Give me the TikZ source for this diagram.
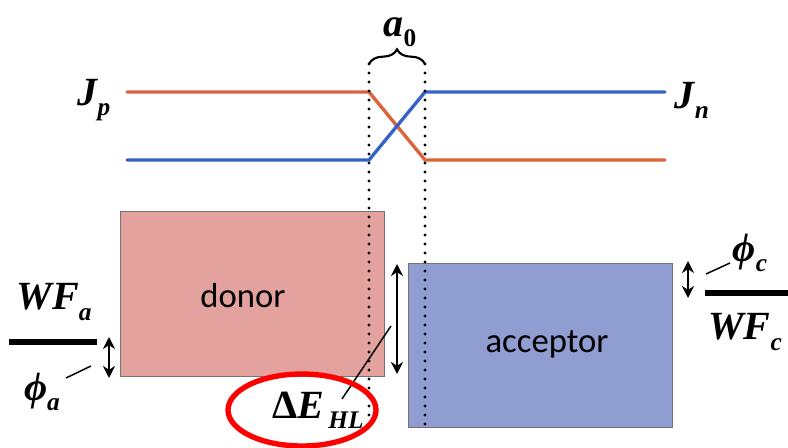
\documentclass[tikz,border=0pt]{standalone}
\usepackage{fontspec}
\setmainfont{Liberation Serif}
\newfontfamily\boxfont{Carlito}
\usetikzlibrary{decorations.pathreplacing,arrows.meta}

\definecolor{jred}{RGB}{220,98,58}
\definecolor{jblue}{RGB}{52,98,200}
\definecolor{donorfill}{RGB}{228,162,158}
\definecolor{acceptfill}{RGB}{143,157,208}

\newcommand{\symsub}[2]{#1\raisebox{-0.55ex}{\fontsize{19}{19}\selectfont #2}}

\begin{document}
\begin{tikzpicture}[
    x=0.75pt, y=-0.75pt,
    lbl/.style={inner sep=0pt, font=\bfseries\itshape\fontsize{30}{32}\selectfont},
    level/.style={line cap=round, line width=2.5pt},
    band/.style={rectangle, draw=black!55, line width=0.8pt, anchor=north west, inner sep=0pt},
    bandtxt/.style={font=\boxfont\fontsize{26}{30}\selectfont},
    gap/.style={line width=2.4pt, dash pattern=on 0pt off 6.75pt, line cap=round},
    dbl/.style={{Stealth[length=9pt,width=9pt]}-{Stealth[length=9pt,width=9pt]}, line width=2pt},
    pointer/.style={line width=1.1pt},
    bar/.style={line width=4pt}
]
\useasboundingbox (0,0) rectangle (788,448);

% energy bands
\node[band, fill=donorfill, minimum width=198pt, minimum height=124pt] (donor) at (120,211) {};
\node[band, fill=acceptfill, minimum width=198pt, minimum height=123pt] (acceptor) at (408,263) {};
\node[bandtxt] (donortxt) at (243,296) {donor};
\node[bandtxt] (acctxt) at (547,344) {acceptor};

% current profiles
\coordinate (pl) at (127,92);
\coordinate (pk) at (369,92);
\coordinate (pm) at (425,160);
\coordinate (pr) at (665,160);
\coordinate (nl) at (127,160);
\coordinate (nk) at (369,160);
\coordinate (nm) at (425,92);
\coordinate (nr) at (665,92);
\draw[level, jred] (pl) -- (pk) -- (pm) -- (pr);
\draw[level, jblue] (nl) -- (nk) -- (nm) -- (nr);
\node[lbl] (jp) at (94,100) {\symsub{J}{p}};
\node[lbl] (jn) at (692,100) {\symsub{J}{n}};

% interface width
\coordinate (gl) at (369,64);
\coordinate (gr) at (425,64);
\coordinate (gl2) at (369,432);
\coordinate (gr2) at (425,432);
\draw[gap] (gl) -- (gl2);
\draw[gap] (gr) -- (gr2);
\draw[line width=1.6pt, decorate, decoration={brace, amplitude=11pt}] (gl) -- (gr);
\node[lbl] (a0) at (400,32) {\symsub{a}{\upshape 0}};

% offset between bands
\coordinate (hl1) at (397,264);
\coordinate (hl2) at (397,374);
\draw[dbl] (hl1) -- (hl2);
\node[lbl] (dehl) at (318,410) {\symsub{{\upshape Δ}E}{\,HL}};
\coordinate (dep) at (342,399);
\coordinate (det) at (391,326);
\draw[pointer] (dep) -- (det);
\draw[red, line width=4pt] (302,410) ellipse [x radius=74, y radius=36];

% anode side
\coordinate (wfa1) at (9,342);
\coordinate (wfa2) at (97,342);
\draw[bar] (wfa1) -- (wfa2);
\node[lbl] (wfa) at (54,302) {\symsub{WF}{a}};
\coordinate (fa1) at (109,337);
\coordinate (fa2) at (109,378);
\draw[dbl] (fa1) -- (fa2);
\node[lbl] (phia) at (42,392) {\symsub{ϕ}{a}};
\coordinate (pa1) at (66,378);
\coordinate (pa2) at (91,366);
\draw[pointer] (pa1) -- (pa2);

% cathode side
\coordinate (wfc1) at (705,293);
\coordinate (wfc2) at (788,293);
\draw[bar] (wfc1) -- (wfc2);
\node[lbl] (wfc) at (745,332) {\symsub{WF}{c}};
\coordinate (fc1) at (688,261);
\coordinate (fc2) at (688,298);
\draw[dbl] (fc1) -- (fc2);
\node[lbl] (phic) at (750,253) {\symsub{ϕ}{c}};
\coordinate (pc1) at (706,274);
\coordinate (pc2) at (730,263);
\draw[pointer] (pc1) -- (pc2);
\end{tikzpicture}
\end{document}
